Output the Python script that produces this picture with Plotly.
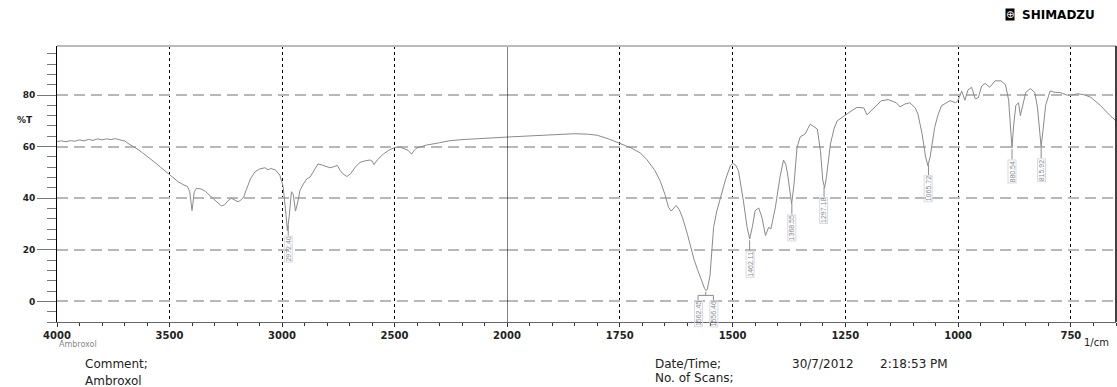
import numpy as np
import plotly.graph_objects as go

# ---------------- data ----------------
wavenumber = [
    4000, 3980, 3960, 3940, 3920, 3900, 3880, 3860, 3840, 3820, 3800, 3780, 3760, 3740, 3720, 3700,
    3680, 3660, 3640, 3620, 3600, 3580, 3560, 3540, 3520, 3500, 3480, 3460, 3440, 3420, 3410, 3404,
    3400, 3396, 3390, 3380, 3360, 3340, 3320, 3300, 3285, 3270, 3255, 3240, 3225, 3210, 3195, 3180,
    3170, 3160, 3140, 3120, 3100, 3076, 3062, 3050, 3030, 3010, 2995, 2985, 2976, 2968, 2958, 2950,
    2940, 2930, 2920, 2905, 2890, 2875, 2860, 2840, 2820, 2800, 2787, 2770, 2754, 2742, 2730, 2712,
    2695, 2675, 2653, 2630, 2609, 2600, 2591, 2575, 2550, 2525, 2498, 2475, 2453, 2440, 2424, 2412,
    2400, 2380, 2357, 2300, 2253, 2200, 2150, 2100, 2050, 2000, 1950, 1900, 1850, 1820, 1800, 1775,
    1750, 1725, 1705, 1690, 1672, 1660, 1650, 1642, 1636, 1630, 1625, 1618, 1610, 1600, 1594, 1585,
    1577, 1570, 1562, 1559, 1556, 1550, 1542, 1535, 1527, 1515, 1505, 1500, 1493, 1487, 1476, 1468,
    1462, 1456, 1450, 1442, 1435, 1427, 1420, 1415, 1405, 1395, 1387, 1382, 1378, 1372, 1369, 1364,
    1357, 1350, 1339, 1333, 1328, 1322, 1317, 1312, 1305, 1300, 1296, 1292, 1283, 1275, 1268, 1250,
    1235, 1224, 1209, 1202, 1195, 1188, 1170, 1155, 1137, 1129, 1118, 1107, 1095, 1089, 1080, 1072,
    1067, 1062, 1052, 1045, 1037, 1018, 1005, 1000, 992, 985, 978, 970, 962, 955, 948, 940,
    930, 918, 905, 895, 888, 884, 880.5, 877, 872, 866, 862, 858, 850, 840, 830, 824,
    819, 816, 812, 806, 796, 785, 774, 760, 747, 735, 719, 705, 685, 670, 663, 650,
]
transmittance = [
    62.0, 62.2, 61.9, 62.3, 62.1, 62.6, 62.2, 62.8, 62.4, 63.0, 62.6, 63.0, 62.7, 63.1, 62.6, 62.2,
    61.0, 60.0, 58.9, 57.6, 56.3, 55.0, 53.5, 52.0, 50.5, 49.0, 47.5, 46.3, 45.3, 44.5, 42.5, 38.0,
    35.2, 38.0, 42.5, 43.8, 43.6, 42.6, 41.0, 39.5, 38.0, 37.0, 37.5, 39.0, 40.0, 39.2, 38.6, 39.5,
    40.5, 43.0, 47.5, 50.2, 51.3, 51.8, 51.0, 51.5, 51.0, 49.0, 44.5, 36.0, 27.5, 33.0, 42.5, 41.5,
    35.0, 38.5, 43.0, 45.5, 47.5, 48.2, 50.5, 53.3, 52.8, 52.0, 51.8, 52.2, 52.7, 50.8, 49.5, 48.4,
    49.5, 52.0, 53.9, 54.5, 54.8, 54.4, 53.0, 55.0, 57.1, 58.6, 59.7, 59.8, 59.2, 58.6, 57.1, 58.6,
    59.5, 60.0, 60.6, 61.5, 62.3, 62.7, 63.0, 63.3, 63.5, 63.7, 64.2, 64.6, 65.0, 64.8, 64.4, 63.0,
    61.2, 59.5, 57.6, 55.0, 50.7, 46.5, 41.5, 36.5, 35.0, 36.0, 37.2, 35.5, 32.0, 26.0, 21.7, 16.0,
    12.0, 8.5, 5.0, 4.2, 4.6, 10.0, 28.7, 35.0, 40.3, 47.5, 52.5, 53.5, 52.8, 50.7, 39.0, 29.0,
    24.2, 29.0, 35.2, 36.2, 32.6, 25.5, 28.7, 28.1, 36.5, 48.0, 54.8, 53.0, 49.4, 42.0, 37.8, 45.0,
    59.7, 63.8, 64.9, 67.0, 68.7, 68.0, 67.4, 66.8, 58.0, 47.0, 44.0, 48.0, 61.0, 67.0, 70.0, 72.3,
    74.0, 75.2, 75.0, 72.3, 73.5, 74.5, 77.8, 78.2, 77.0, 75.4, 76.5, 77.0, 75.0, 72.6, 65.0, 56.0,
    52.6, 56.0, 67.4, 72.0, 75.8, 77.8, 77.0, 78.0, 81.5, 78.0, 82.0, 83.0, 78.5, 79.0, 83.5, 84.5,
    83.0, 85.5, 85.5, 84.0, 78.0, 68.0, 59.5, 68.0, 76.0, 77.0, 72.0, 75.0, 81.0, 82.5, 81.0, 75.0,
    65.0, 60.0, 66.0, 76.0, 81.6, 81.0, 81.0, 80.0, 80.0, 80.5, 80.0, 79.0, 76.0, 73.0, 72.0, 70.0,
]
peak_wavenumbers = [2972.40, 1462.11, 1368.55, 1297.18, 1065.72, 880.54, 815.92]
fork_peaks = [1562.45, 1556.46]

x_ticks_left = [4000, 3500, 3000, 2500]
x_ticks_right = [2000, 1750, 1500, 1250, 1000, 750]

# ---------------- figure ----------------
wn = np.array(wavenumber, dtype=float)
tr = np.array(transmittance, dtype=float)
left = wn >= 2000
right = wn <= 2000

W, H = 1117, 387
L, R, T, B = 57, 1116, 46, 322


def px(xp):
    return (xp - L) / (R - L)


def py(yp):
    return (B - yp) / (B - T)


line_style = dict(color="#8a8a8a", width=1)
fig = go.Figure()
fig.add_trace(go.Scatter(x=wn[left], y=tr[left], mode="lines", line=line_style,
                         xaxis="x", yaxis="y", showlegend=False, hoverinfo="skip"))
fig.add_trace(go.Scatter(x=wn[right], y=tr[right], mode="lines", line=line_style,
                         xaxis="x2", yaxis="y", showlegend=False, hoverinfo="skip"))

split = 450 / (R - L)
tickfont = dict(family="DejaVu Sans", size=10, color="#222", weight="bold")
common_x = dict(showline=True, linecolor="#666", linewidth=1, ticks="outside", ticklen=4,
                tickcolor="#333", tickfont=tickfont, showgrid=True, gridcolor="#000",
                griddash="dot", gridwidth=1, zeroline=False, anchor="y",
                tickmode="array")
fig.update_layout(
    width=W, height=H,
    margin=dict(l=L, r=W - R, t=T, b=H - B, pad=0),
    paper_bgcolor="white", plot_bgcolor="white",
    font=dict(family="DejaVu Sans", color="#222"),
    xaxis=dict(domain=[0, split], range=[4000, 2000], tickvals=x_ticks_left,
               ticktext=[str(v) for v in x_ticks_left],
               minor=dict(dtick=100, tick0=0, ticks="outside", ticklen=3, tickcolor="#333",
                          showgrid=False),
               **common_x),
    xaxis2=dict(domain=[split, 1], range=[2000, 650], tickvals=x_ticks_right,
                ticktext=[str(v) for v in x_ticks_right],
                minor=dict(dtick=50, tick0=0, ticks="outside", ticklen=3, tickcolor="#333",
                           showgrid=False),
                **common_x),
    yaxis=dict(domain=[0, 1], range=[-8, 99], tickmode="linear", tick0=0, dtick=20,
               showline=True, linecolor="#000", linewidth=1, anchor="x",
               ticks="outside", ticklen=19, tickcolor="#777", tickwidth=1,
               tickfont=dict(family="DejaVu Sans", size=9, color="#222", weight="bold"),
               showgrid=True, gridcolor="#b8b8b8", gridwidth=2, griddash="11px,6px",
               zeroline=False,
               minor=dict(dtick=4, tick0=0, ticks="outside", ticklen=9, tickcolor="#777",
                          showgrid=False)),
)

shapes = [
    dict(type="line", xref="x2", yref="paper", x0=2000, x1=2000, y0=0, y1=1,
         line=dict(color="#000", width=1)),
    dict(type="line", xref="paper", yref="paper", x0=0, x1=1, y0=1, y1=1,
         line=dict(color="#bbbbbb", width=2)),
    dict(type="line", xref="paper", yref="paper", x0=1, x1=1, y0=0, y1=1,
         line=dict(color="#000", width=1.5)),
]
annotations = []
label_font = dict(family="Liberation Sans Narrow, Liberation Sans", size=7, color="#8a8a8a")
lead_color = "#8a8a8a"


def xr(w):
    return "x" if w > 2000 else "x2"


for w in peak_wavenumbers:
    tmin = float(np.interp(-w, -wn, tr))
    y0 = tmin - 0.6
    y1 = tmin - 4.6
    shapes.append(dict(type="line", xref=xr(w), yref="y", x0=w, x1=w, y0=y0, y1=y1,
                       line=dict(color=lead_color, width=1)))
    annotations.append(dict(x=w, y=y1, xref=xr(w), yref="y", text=f"{w:.2f}", textangle=-90,
                            showarrow=False, xanchor="center", yanchor="top", font=label_font,
                            bordercolor="#d3dbea", borderwidth=1, borderpad=0))

# forked labels for the doublet
fmid = float(np.mean(fork_peaks))
fmin = float(np.interp(-fmid, -wn, tr))
spread = 17
fx = [fmid + spread, fmid - spread]
shapes.append(dict(type="line", xref="x2", yref="y", x0=fmid, x1=fmid, y0=fmin - 0.6, y1=fmin - 2.0,
                   line=dict(color=lead_color, width=1)))
shapes.append(dict(type="line", xref="x2", yref="y", x0=fx[0], x1=fx[1], y0=fmin - 2.0, y1=fmin - 2.0,
                   line=dict(color=lead_color, width=1)))
for w, xpos in zip(fork_peaks, fx):
    shapes.append(dict(type="line", xref="x2", yref="y", x0=xpos, x1=xpos, y0=fmin - 2.0,
                       y1=fmin - 4.0, line=dict(color=lead_color, width=1)))
    annotations.append(dict(x=xpos, y=fmin - 4.0, xref="x2", yref="y", text=f"{w:.2f}",
                            textangle=-90, showarrow=False, xanchor="center", yanchor="top",
                            font=label_font, bordercolor="#d3dbea", borderwidth=1, borderpad=0))


def txt(text, xp, yp, xanchor="left", size=12, color="#222", weight="normal"):
    annotations.append(dict(x=px(xp), y=py(yp), xref="paper", yref="paper", text=text,
                            showarrow=False, xanchor=xanchor, yanchor="middle",
                            font=dict(family="DejaVu Sans", size=size, color=color, weight=weight)))


txt("%T", 35, 120, xanchor="right", size=9, weight="bold")
txt("Ambroxol", 57, 344, size=8, color="#888")
txt("1/cm", 1111, 342, xanchor="right", size=10)
txt("Comment;", 83, 364, size=12)
txt("Ambroxol", 83, 381, size=12)
txt("Date/Time;", 653, 364, size=12)
txt("30/7/2012", 790, 364, size=12)
txt("2:18:53 PM", 878, 364, size=12)
txt("No. of Scans;", 653, 378, size=12)
txt("SHIMADZU", 1020, 15, size=12, color="#000", weight="bold")
annotations.append(dict(x=px(1010), y=py(15), xref="paper", yref="paper", text="⊕",
                        showarrow=False, xanchor="center", yanchor="middle", bgcolor="#000",
                        borderpad=0, font=dict(family="DejaVu Sans", size=10, color="#fff")))

fig.update_layout(shapes=shapes, annotations=annotations)
fig.write_html("out.html", config={"displayModeBar": False},
               post_script="document.body.style.margin='0';document.body.style.overflow='hidden';")
